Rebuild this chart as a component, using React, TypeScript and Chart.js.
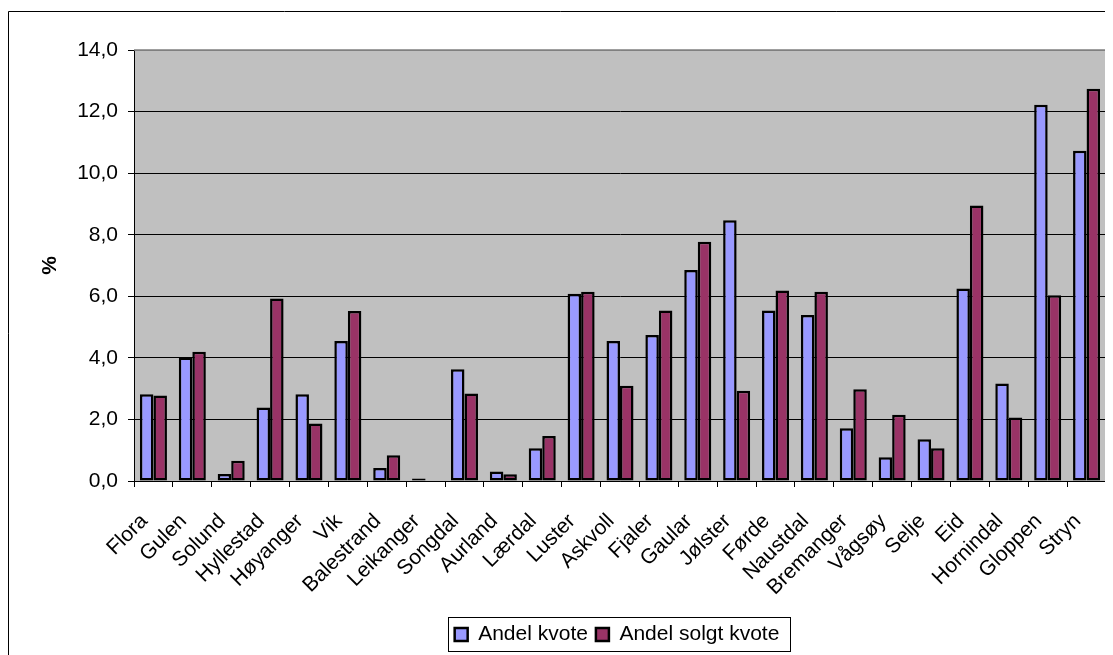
import React, { useEffect, useRef } from "react";
import { Chart, registerables } from "chart.js";

Chart.register(...registerables);

const categories = [
  "Flora", "Gulen", "Solund", "Hyllestad", "Høyanger", "Vik", "Balestrand", "Leikanger",
  "Songdal", "Aurland", "Lærdal", "Luster", "Askvoll", "Fjaler", "Gaular", "Jølster",
  "Førde", "Naustdal", "Bremanger", "Vågsøy", "Selje", "Eid", "Hornindal", "Gloppen", "Stryn",
];

const andelKvote = [
  2.82, 4.01, 0.23, 2.39, 2.82, 4.55, 0.42, 0.08,
  3.63, 0.31, 1.06, 6.08, 4.55, 4.74, 6.85, 8.47,
  5.54, 5.39, 1.71, 0.77, 1.36, 6.25, 3.17, 12.22, 10.73,
];

const andelSolgtKvote = [
  2.78, 4.2, 0.66, 5.93, 1.87, 5.52, 0.84, 0,
  2.84, 0.22, 1.46, 6.15, 3.09, 5.54, 7.77, 2.93,
  6.19, 6.15, 2.98, 2.15, 1.06, 8.95, 2.06, 6.03, 12.74,
];

const seriesLabels = ["Andel kvote", "Andel solgt kvote"];
const yTicks = [0, 2, 4, 6, 8, 10, 12, 14];

const W = 1105;
const H = 647;
const FS = 21;

const decorPlugin = {
  id: "decor",
  afterLayout(chart: any) {
    const lg = chart.legend;
    if (lg) {
      lg.left += 60;
      lg.right += 60;
    }
  },
  beforeDraw(chart: any) {
    const { ctx, chartArea } = chart;
    ctx.save();
    ctx.fillStyle = "#ffffff";
    ctx.fillRect(0, 0, chart.width, chart.height);
    ctx.strokeStyle = "#000000";
    ctx.lineWidth = 1;
    ctx.beginPath();
    ctx.moveTo(0.5, chart.height);
    ctx.lineTo(0.5, 3.5);
    ctx.lineTo(chart.width, 3.5);
    ctx.stroke();
    ctx.fillStyle = "#C0C0C0";
    ctx.fillRect(chartArea.left, chartArea.top, chartArea.right - chartArea.left, chartArea.bottom - chartArea.top);
    ctx.restore();
  },
  afterDraw(chart: any) {
    const { ctx, chartArea } = chart;
    ctx.save();
    ctx.strokeStyle = "#808080";
    ctx.lineWidth = 1.5;
    ctx.beginPath();
    ctx.moveTo(chartArea.left, chartArea.top);
    ctx.lineTo(chartArea.right, chartArea.top);
    ctx.lineTo(chartArea.right, chartArea.bottom);
    ctx.stroke();
    const lg = chart.legend;
    if (lg && lg.legendHitBoxes && lg.legendHitBoxes.length) {
      let l = Infinity, r = -Infinity, t = Infinity, b = -Infinity;
      lg.legendHitBoxes.forEach((hb: any) => {
        l = Math.min(l, hb.left);
        r = Math.max(r, hb.left + hb.width);
        t = Math.min(t, hb.top);
        b = Math.max(b, hb.top + hb.height);
      });
      ctx.strokeStyle = "#000000";
      ctx.lineWidth = 1;
      ctx.strokeRect(Math.round(l - 7) + 0.5, Math.round(t - 7) + 0.5, Math.round(r - l + 17), Math.round(b - t + 13));
    }
    ctx.restore();
  },
};

export default function App() {
  const ref = useRef<HTMLCanvasElement>(null);

  useEffect(() => {
    if (!ref.current) return;
    Chart.defaults.font.family = "'Liberation Sans', Arial, sans-serif";
    Chart.defaults.font.size = FS;
    Chart.defaults.color = "#000000";

    const chart = new Chart(ref.current, {
      type: "bar",
      data: {
        labels: categories,
        datasets: [
          {
            label: seriesLabels[0],
            data: andelKvote,
            backgroundColor: "#9999FF",
            borderColor: "#000000",
            borderWidth: 2.5,
            borderSkipped: false,
            categoryPercentage: 0.695,
            barPercentage: 1.0,
          },
          {
            label: seriesLabels[1],
            data: andelSolgtKvote,
            backgroundColor: "#993366",
            borderColor: "#000000",
            borderWidth: 2.5,
            borderSkipped: false,
            categoryPercentage: 0.695,
            barPercentage: 1.0,
          },
        ],
      },
      options: {
        responsive: false,
        animation: false,
        layout: { padding: { left: 0, top: 42, right: 7, bottom: 0 } },
        plugins: {
          tooltip: { enabled: false },
          legend: {
            position: "bottom",
            labels: {
              boxWidth: 13,
              boxHeight: 13,
              padding: 8,
              font: { size: FS },
              color: "#000000",
            },
          },
        },
        scales: {
          x: {
            grid: {
              offset: true,
              drawOnChartArea: false,
              drawTicks: true,
              tickLength: 6,
              color: "#000000",
            },
            border: { color: "#000000", width: 1 },
            ticks: {
              autoSkip: false,
              maxRotation: 45,
              minRotation: 45,
              padding: 22,
              labelOffset: -9,
              font: { size: FS },
              color: "#000000",
            },
            afterFit(scale: any) {
              scale.height = 135;
              scale.paddingLeft = 0;
              scale.paddingRight = 0;
            },
          },
          y: {
            min: 0,
            max: 14,
            afterBuildTicks(scale: any) {
              scale.ticks = yTicks.map((v) => ({ value: v }));
            },
            grid: {
              color: (c: any) => (c.tick && c.tick.value === 14 ? "#808080" : "#000000"),
              lineWidth: 1,
              tickLength: 6,
              tickColor: "#000000",
            },
            border: { color: "#000000", width: 1 },
            ticks: {
              padding: 10,
              font: { size: FS },
              color: "#000000",
              callback: (v: any) => Number(v).toFixed(1).replace(".", ","),
            },
            title: {
              display: true,
              text: "%",
              font: { size: FS, weight: "bold" },
              color: "#000000",
              padding: { top: 30, bottom: 0 },
            },
            afterFit(scale: any) {
              scale.width = 126;
            },
          },
        },
      },
      plugins: [decorPlugin],
    });
    return () => chart.destroy();
  }, []);

  return <canvas ref={ref} width={W} height={H} style={{ display: "block", width: W, height: H }} />;
}
